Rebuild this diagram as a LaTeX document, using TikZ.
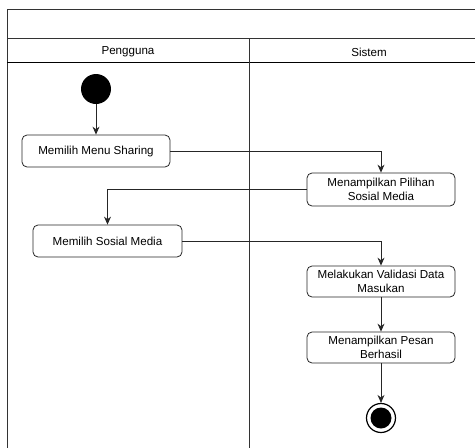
\documentclass[tikz,border=0pt]{standalone}
\usepackage{fontspec}
\setmainfont{Liberation Sans}
\usetikzlibrary{arrows.meta}
\begin{document}
\begin{tikzpicture}[x=1pt,y=-1pt,
  frameline/.style={draw=black!80,line width=0.9pt},
  actbox/.style={draw=black!85,line width=0.8pt,rounded corners=5pt,align=center,
    font=\fontsize{11.6}{14}\selectfont,inner sep=2pt},
  flow/.style={draw=black!85,line width=0.8pt,-{Stealth[length=8pt,width=7pt]}}]
\useasboundingbox (0,0) rectangle (475,448);
% frame
\draw[frameline] (475,9) -- (7,9) -- (7,448);
\draw[frameline] (7,38) -- (475,38);
\draw[frameline,draw=black] (7,62) -- (475,62);
\draw[frameline] (249,38) -- (249,448);
\node[font=\fontsize{11.6}{14}\selectfont] (lane1) at (128,52) {Pengguna};
\node[font=\fontsize{11.6}{14}\selectfont] (lane2) at (369,52) {Sistem};
% nodes
\node[circle,fill=black,minimum size=30pt,inner sep=0pt] (start) at (96,89) {};
\node[actbox,minimum width=148pt,minimum height=32pt] (b1) at (96,151) {Memilih Menu Sharing};
\node[actbox,minimum width=148pt,minimum height=33pt] (b2) at (381,189.5) {Menampilkan Pilihan\\Sosial Media};
\node[actbox,minimum width=149pt,minimum height=32pt] (b3) at (107.5,241) {Memilih Sosial Media};
\node[actbox,minimum width=148pt,minimum height=31pt] (b4) at (381,281.5) {Melakukan Validasi Data\\Masukan};
\node[actbox,minimum width=148pt,minimum height=31pt] (b5) at (381,347.5) {Menampilkan Pesan\\Berhasil};
\node[circle,draw=black,line width=1.2pt,minimum size=29pt,inner sep=0pt] (endo) at (381,418) {};
\node[circle,fill=black,minimum size=21pt,inner sep=0pt] (endi) at (381,418) {};
% connectors
\draw[flow] (start) -- (b1);
\draw[flow] (b1.east) -| (b2.north);
\draw[flow] (b2.west) -| (b3.north);
\draw[flow] (b3.east) -| (b4.north);
\draw[flow] (b4) -- (b5);
\draw[flow] (b5) -- (endo.north);
\end{tikzpicture}
\end{document}
